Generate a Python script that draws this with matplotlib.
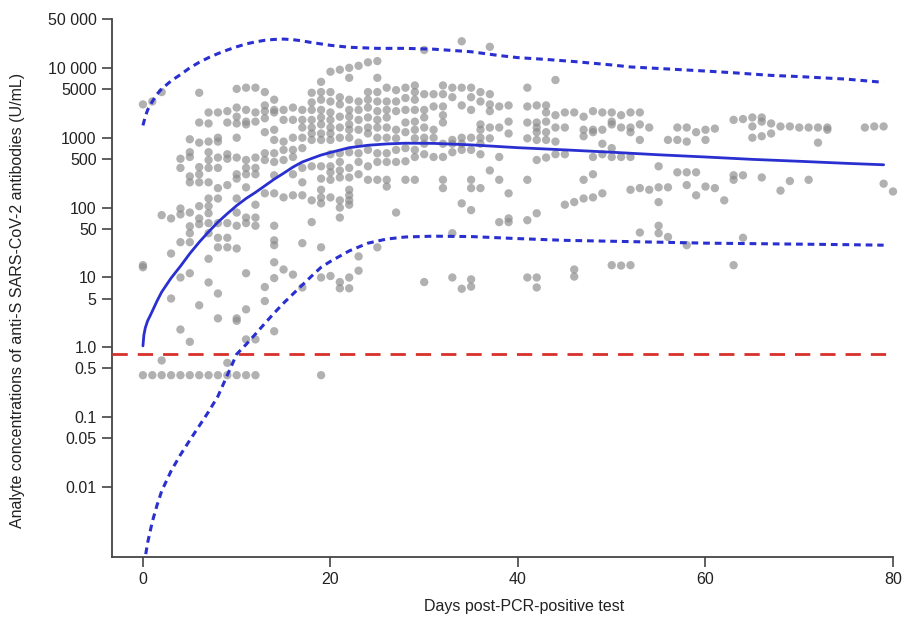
import matplotlib
matplotlib.use("Agg")
import matplotlib.pyplot as plt
import numpy as np

plt.rcParams['font.family'] = ['Liberation Sans', 'DejaVu Sans']

# ---- observed data: day columns and antibody concentrations (U/mL) ----
day_columns = [0, 1, 2, 3, 4, 5, 6, 7, 8, 9, 10, 11, 12, 13, 14, 15, 16, 17, 18, 19,
               20, 21, 22, 23, 24, 25, 26, 27, 28, 29, 30, 31, 32, 33, 34, 35, 36, 37, 38, 39,
               41, 42, 43, 44, 45, 46, 47, 48, 49, 50, 51, 52, 53, 54, 55, 56, 57, 58, 59, 60,
               61, 62, 63, 64, 65, 66, 67, 68, 69, 70, 71, 72, 73, 77, 78, 79, 80]
concentrations = [
    [3000, 15, 14, 0.4],
    [3300, 0.4],
    [4500, 78, 0.65, 0.4],
    [70, 22, 5, 0.4],
    [500, 370, 97, 80, 32, 10, 1.8, 0.4],
    [950, 620, 530, 280, 230, 85, 54, 43, 32, 11.5, 1.2, 0.4],
    [4400, 1650, 850, 380, 300, 230, 105, 70, 58, 4, 0.4],
    [2300, 1600, 880, 620, 480, 370, 230, 135, 105, 83, 60, 43, 18.5, 8.5, 0.4],
    [2300, 1000, 880, 520, 370, 190, 135, 60, 37, 27, 5.9, 2.6, 0.4],
    [2400, 1650, 580, 500, 210, 60, 37, 27, 0.6, 0.4],
    [5000, 2700, 2000, 1600, 1000, 520, 300, 260, 135, 85, 55, 26, 2.6, 2.4, 0.4],
    [5200, 2500, 1700, 1550, 480, 370, 300, 195, 72, 60, 11.5, 3.5, 1.3, 0.4],
    [5200, 2300, 1700, 520, 370, 300, 110, 72, 55, 1.3, 0.4],
    [4500, 2900, 2400, 1900, 1200, 600, 480, 160, 7.3, 4.6],
    [3500, 2500, 2300, 1300, 930, 600, 450, 290, 160, 55, 34, 29, 16.5, 9.8, 1.7],
    [2500, 1800, 880, 670, 480, 140, 13],
    [2700, 1800, 1000, 670, 530, 300, 150, 11],
    [2500, 1800, 1400, 1000, 710, 370, 230, 150, 31, 7.2],
    [4400, 3200, 2500, 1800, 1400, 1150, 930, 390, 127, 62],
    [6300, 4500, 3500, 2500, 1950, 1550, 1150, 930, 390, 260, 180, 140, 115, 27, 10, 0.4],
    [8800, 4500, 3300, 2300, 1800, 1400, 1150, 930, 580, 390, 320, 250, 140, 10.5],
    [9400, 3800, 3000, 2000, 1400, 1000, 600, 450, 340, 270, 127, 100, 72, 8.6, 7],
    [10000, 7200, 3500, 2500, 2000, 1550, 1300, 1000, 620, 370, 270, 180, 150, 127, 110, 10, 7],
    [10700, 3300, 2500, 1800, 1300, 850, 600, 450, 300, 20, 12.5],
    [12000, 4500, 3500, 2700, 1950, 1400, 1150, 670, 390, 250],
    [12500, 7200, 4500, 3300, 2400, 1800, 1400, 1000, 600, 450, 250, 27],
    [5200, 3300, 2500, 1950, 1400, 1000, 600, 450, 250, 200],
    [4800, 3300, 2400, 1300, 980, 670, 450, 85],
    [5200, 3700, 2500, 1650, 1200, 710, 460, 250],
    [5600, 4500, 3500, 2500, 1700, 1300, 980, 670, 530, 250],
    [18000, 4200, 2500, 1950, 1400, 1000, 820, 580, 8.6],
    [4200, 2800, 1300, 1000, 530],
    [5600, 4200, 2800, 2100, 1650, 820, 530, 250, 190],
    [5200, 3800, 930, 820, 620, 43, 10],
    [24000, 5200, 2900, 1000, 820, 670, 115, 6.9],
    [5200, 3800, 2500, 1000, 670, 250, 190, 92, 9.4, 7.4],
    [4500, 3300, 1550, 1300, 1000, 820, 580, 190],
    [20000, 4200, 3000, 2400, 1400, 980, 340],
    [2800, 1400, 530, 250, 62],
    [2900, 1700, 1150, 160, 62, 70],
    [5200, 2800, 1650, 980, 250, 66, 10],
    [2900, 1650, 1400, 1200, 930, 480, 83, 10, 7.2],
    [2900, 2300, 1700, 1200, 930, 520],
    [6700, 2100, 1400, 880, 580],
    [2300, 1400, 580, 110],
    [2300, 120, 13, 10.3],
    [2000, 1300, 1050, 250, 135],
    [2400, 1300, 1200, 530, 300, 140],
    [2300, 1300, 820, 580, 160],
    [2300, 1700, 1550, 710, 530, 15],
    [2100, 1400, 530, 14.8],
    [2300, 1400, 1200, 530, 180, 15],
    [2300, 1550, 930, 190, 44],
    [1400, 180],
    [390, 195, 120, 55, 43],
    [930, 195, 38],
    [1400, 930, 320],
    [1400, 880, 320, 210, 29],
    [1200, 320, 150],
    [1300, 930, 200],
    [1350, 190],
    [127],
    [1800, 290, 250, 15],
    [1850, 290, 37],
    [1950, 1450, 1000],
    [1950, 1700, 1050, 270],
    [1600, 1150],
    [1450, 175],
    [1450, 240],
    [1400],
    [1400, 250],
    [1400, 850],
    [1400, 1300],
    [1400],
    [1450],
    [1450, 220],
    [170],
]

# ---- fitted curve and confidence band ----
fit_days = [0, 0.1, 0.25, 0.5, 0.75, 1, 1.5, 2, 2.5, 3, 4, 5, 6, 7, 8, 9, 10, 11, 12,
            13, 14, 15, 16, 17, 18, 19, 20, 22, 24, 26, 28, 31, 35, 40, 45, 50, 55, 60,
            65, 70, 75, 79]
fit_values = [1.05, 1.5, 1.9, 2.4, 2.8, 3.3, 4.6, 6.2, 7.8, 9.8, 14.5, 22, 32, 45, 62,
              82, 107, 135, 165, 205, 255, 310, 380, 450, 505, 565, 615, 720, 780, 815,
              835, 830, 790, 720, 670, 620, 570, 530, 490, 460, 430, 410]
upper_days = [0, 0.25, 0.5, 1, 1.5, 2, 3, 4, 5, 6, 7, 8, 9, 10, 11, 12, 13, 14, 15, 16,
              17, 18, 19, 20, 22, 25, 28, 31, 35, 38, 40, 43, 46, 50, 52, 55, 60, 63,
              67, 70, 75, 79]
upper_values = [1500, 2000, 2500, 3300, 4200, 5000, 6500, 8000, 10000, 12000, 14000,
                16000, 18000, 20000, 22000, 23500, 24800, 25500, 25800, 25300, 24300,
                23000, 22000, 21000, 19700, 19000, 19000, 18500, 17000, 15000, 14000,
                13200, 12300, 11000, 10300, 9800, 9000, 8500, 7800, 7500, 6900, 6200]
lower_days = [0.3, 0.5, 1, 1.5, 2, 3, 4, 5, 6, 7, 8, 9, 10, 11, 12, 13, 14, 15, 16, 17,
              18, 19, 20, 22, 24, 26, 28, 31, 35, 40, 45, 50, 55, 60, 65, 70, 75, 79]
lower_values = [0.0011, 0.0016, 0.0032, 0.0055, 0.0088, 0.017, 0.029, 0.047, 0.075,
                0.12, 0.2, 0.4, 0.8, 1.1, 1.55, 2.2, 3.1, 4.3, 5.8, 7.8, 10.5, 14, 17,
                24, 31, 35.5, 38, 39, 38.5, 36, 34, 33, 32, 31, 30.5, 30, 29.5, 29]
cutoff = 0.8

y_ticks = [50000, 10000, 5000, 1000, 500, 100, 50, 10, 5, 1.0, 0.5, 0.1, 0.05, 0.01]
y_tick_labels = ['50 000', '10 000', '5000', '1000', '500', '100', '50', '10', '5',
                 '1.0', '0.5', '0.1', '0.05', '0.01']
x_ticks = [0, 20, 40, 60, 80]

# ---- plotting ----
fig = plt.figure(figsize=(9.23, 6.2), dpi=100)
ax = fig.add_axes([112 / 923, 63 / 620, 781 / 923, 538 / 620])

xs = []
ys = []
for d, vals in zip(day_columns, concentrations):
    for v in vals:
        xs.append(d)
        ys.append(v)

ax.scatter(xs, ys, s=36, color='#8c8c8c', alpha=0.68, edgecolors='none', zorder=2,
           clip_on=False)

ax.axhline(cutoff, color='#d8302a', lw=2.0, dashes=(5.5, 3.6), zorder=3)
ax.plot(fit_days, fit_values, color='#2a2fd0', lw=2.0, zorder=4,
        solid_joinstyle='round', solid_capstyle='round')
ax.plot(upper_days, upper_values, color='#2a2fd0', lw=2.2, dashes=(2.2, 1.6), zorder=4)
ax.plot(lower_days, lower_values, color='#2a2fd0', lw=2.2, dashes=(2.2, 1.6), zorder=4)

ax.set_yscale('log')
ax.set_ylim(0.001, 50000)
ax.set_xlim(-3.3, 80)
ax.set_yticks(y_ticks)
ax.set_yticklabels(y_tick_labels)
ax.yaxis.set_minor_locator(matplotlib.ticker.NullLocator())
ax.set_xticks(x_ticks)
ax.set_xticklabels([str(t) for t in x_ticks])

for side in ['top', 'right']:
    ax.spines[side].set_visible(False)
for side in ['left', 'bottom']:
    ax.spines[side].set_color('#444444')
    ax.spines[side].set_linewidth(1.3)

ax.tick_params(axis='both', which='major', length=7, width=1.2, color='#444444',
               labelsize=11.5, labelcolor='#222222', pad=4)

fig.text(18 / 923, 1 - 300 / 620,
         'Analyte concentrations of anti-S SARS-CoV-2 antibodies (U/mL)',
         rotation=90, ha='center', va='center', fontsize=11.5, color='#222222')
fig.text(524 / 923, 1 - 607 / 620, 'Days post-PCR-positive test',
         ha='center', va='center', fontsize=11.5, color='#222222')

fig.savefig('out.png', dpi=100)
